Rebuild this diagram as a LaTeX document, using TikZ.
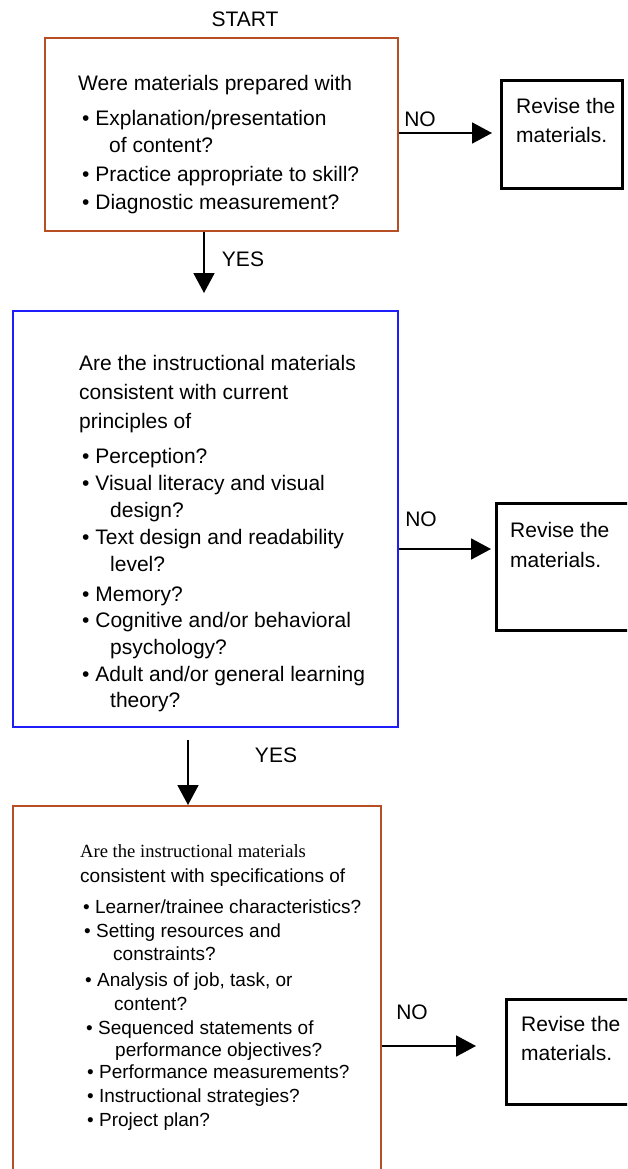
\documentclass[tikz,border=0pt]{standalone}
\usepackage{fontspec}
\setmainfont{Liberation Sans}
\newfontfamily\serifface{Liberation Serif}
\usetikzlibrary{arrows.meta}
\definecolor{boxbrown}{RGB}{184,78,36}
\definecolor{boxblue}{RGB}{30,30,250}
\tikzset{
  qbox/.style={draw, line width=1.6pt, minimum width=#1, inner sep=0pt, anchor=north west},
  revbox/.style={draw=black, line width=3pt, inner sep=0pt, anchor=north west},
  txt/.style={anchor=base west, inner sep=0pt, font=\fontsize{21}{24}\selectfont},
  small/.style={anchor=base west, inner sep=0pt, font=\fontsize{19}{22}\selectfont},
  lbl/.style={anchor=center, inner sep=0pt, font=\fontsize{21}{24}\selectfont},
  arr/.style={line width=1.8pt, -{Triangle[length=20pt,width=21pt]}}
}
\begin{document}
\begin{tikzpicture}[x=1pt,y=-1pt]
\useasboundingbox (0,0) rectangle (627,1169);
\clip (0,0) rectangle (627,1169);

% question boxes
\node[qbox=353pt, draw=boxbrown, minimum height=193pt] (q1) at (44,37) {};
\node[qbox=385pt, draw=boxblue, minimum height=416pt] (q2) at (12,310) {};
\node[qbox=368pt, draw=boxbrown, minimum height=400pt] (q3) at (12,805) {};

% revision boxes
\node[revbox, minimum width=121pt, minimum height=108pt] (r1) at (500,79) {};
\node[revbox, minimum width=145pt, minimum height=127pt] (r2) at (495,502) {};
\node[revbox, minimum width=135pt, minimum height=105pt] (r3) at (505,998) {};

% start label
\node[lbl] (start) at (245,19) {START};

% first question
\node[txt] (a0) at (78,91) {Were materials prepared with};
\node[txt] (a1) at (82,126) {• Explanation/presentation};
\node[txt] (a2) at (109,153) {of content?};
\node[txt] (a3) at (82,182) {• Practice appropriate to skill?};
\node[txt] (a4) at (82,209) {• Diagnostic measurement?};

% second question
\node[txt] (b0) at (79,370) {Are the instructional materials};
\node[txt] (b1) at (79,399) {consistent with current};
\node[txt] (b2) at (79,428) {principles of};
\node[txt] (b3) at (82,463) {• Perception?};
\node[txt] (b4) at (82,490) {• Visual literacy and visual};
\node[txt] (b5) at (110,517) {design?};
\node[txt] (b6) at (82,544) {• Text design and readability};
\node[txt] (b7) at (110,571) {level?};
\node[txt] (b8) at (82,601) {• Memory?};
\node[txt] (b9) at (82,627) {• Cognitive and/or behavioral};
\node[txt] (b10) at (110,654) {psychology?};
\node[txt] (b11) at (82,681) {• Adult and/or general learning};
\node[txt] (b12) at (110,707) {theory?};

% third question
\node[small, font=\serifface\fontsize{18.6}{22}\selectfont] (c0) at (80,857) {Are the instructional materials};
\node[small] (c1) at (80,882) {consistent with specifications of};
\node[small] (c2) at (83,913) {• Learner/trainee characteristics?};
\node[small] (c3) at (84,937) {• Setting resources and};
\node[small] (c4) at (113,960) {constraints?};
\node[small] (c5) at (85,986) {• Analysis of job, task, or};
\node[small] (c6) at (114,1010) {content?};
\node[small] (c7) at (86,1034) {• Sequenced statements of};
\node[small] (c8) at (115,1056) {performance objectives?};
\node[small] (c9) at (87,1078) {• Performance measurements?};
\node[small] (c10) at (87,1102) {• Instructional strategies?};
\node[small] (c11) at (87,1126) {• Project plan?};

% revision texts
\node[txt] (r1a) at (516,114) {Revise the};
\node[txt] (r1b) at (516,143) {materials.};
\node[txt] (r2a) at (510,537) {Revise the};
\node[txt] (r2b) at (510,567) {materials.};
\node[txt] (r3a) at (521,1031) {Revise the};
\node[txt] (r3b) at (521,1060) {materials.};

% branch labels
\node[lbl] (no1) at (420,119) {NO};
\node[lbl] (no2) at (421,519) {NO};
\node[lbl] (no3) at (412,1012) {NO};
\node[lbl] (yes1) at (243,259) {YES};
\node[lbl] (yes2) at (276,755) {YES};

% connector ends
\coordinate (t1) at (492,133);
\coordinate (t2) at (491,549);
\coordinate (t3) at (476,1046);
\coordinate (d1) at (204,293);
\coordinate (s2) at (188,740);

% connectors
\draw[arr] (q1.east |- t1) -- (t1);
\draw[arr] (q2.east |- t2) -- (t2);
\draw[arr] (q3.east |- t3) -- (t3);
\draw[arr] (q1.south -| d1) -- (d1);
\draw[arr] (s2) -- (q3.north -| s2);
\end{tikzpicture}
\end{document}
